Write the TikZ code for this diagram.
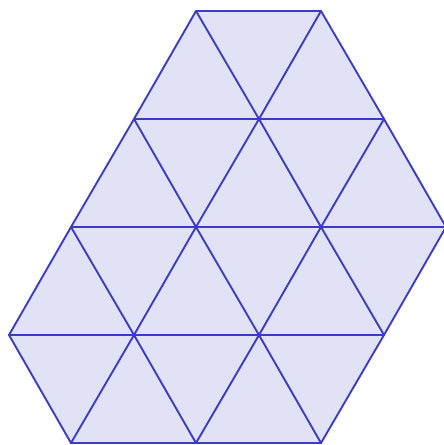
\documentclass[tikz,border=0pt]{standalone}
\definecolor{trifill}{RGB}{226,226,247}
\definecolor{triline}{RGB}{60,60,195}
\begin{document}
\begin{tikzpicture}[x=1pt,y=-1pt,
  gridline/.style={draw=triline,line width=1.9pt,line join=round,line cap=round}]
\useasboundingbox (0,0) rectangle (444,445);
\clip (0,0) rectangle (444,445);
% row 0
\coordinate (a0) at (196,11);
\coordinate (a1) at (321,11);
% row 1
\coordinate (b0) at (134,119);
\coordinate (b1) at (259,119);
\coordinate (b2) at (384,119);
% row 2
\coordinate (c0) at (71,227);
\coordinate (c1) at (196,227);
\coordinate (c2) at (321,227);
\coordinate (c3) at (446,227);
% row 3
\coordinate (d0) at (9,335);
\coordinate (d1) at (134,335);
\coordinate (d2) at (259,335);
\coordinate (d3) at (384,335);
% row 4
\coordinate (e0) at (71,443);
\coordinate (e1) at (196,443);
\coordinate (e2) at (321,443);
% fill
\fill[trifill] (a0) -- (a1) -- (b2) -- (c3) -- (d3) -- (e2) -- (e0) -- (d0) -- (c0) -- (b0) -- cycle;
% boundary
\draw[gridline] (a0) -- (a1) -- (b2) -- (c3) -- (d3) -- (e2) -- (e0) -- (d0) -- (c0) -- (b0) -- cycle;
% horizontals
\draw[gridline] (b0) -- (b2);
\draw[gridline] (c0) -- (c3);
\draw[gridline] (d0) -- (d3);
% down-right diagonals
\draw[gridline] (a0) -- (b1) -- (c2) -- (d3);
\draw[gridline] (b0) -- (c1) -- (d2) -- (e2);
\draw[gridline] (c0) -- (d1) -- (e1);
% down-left diagonals
\draw[gridline] (a1) -- (b1) -- (c1) -- (d1) -- (e0);
\draw[gridline] (b2) -- (c2) -- (d2) -- (e1);
\end{tikzpicture}
\end{document}
